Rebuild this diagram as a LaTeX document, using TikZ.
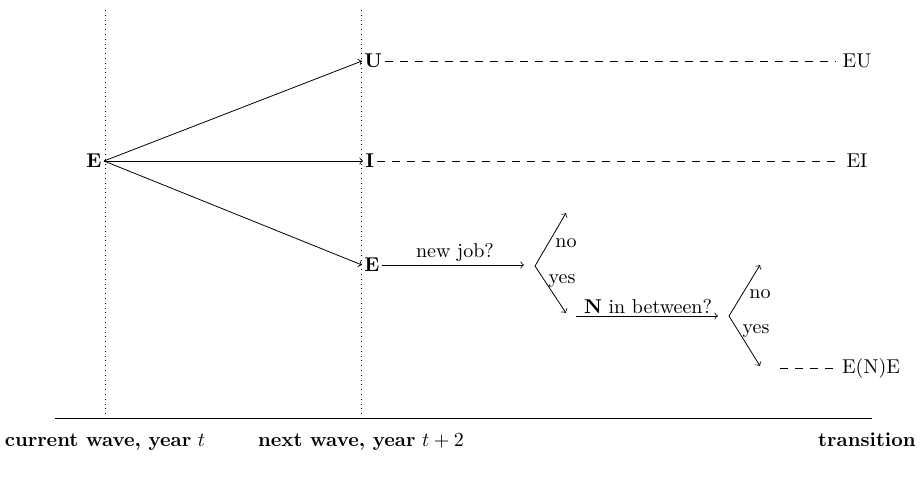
\documentclass[tikz,border=0pt]{standalone}
\usetikzlibrary{arrows}
\begin{document}
\begin{tikzpicture}[x=0.5pt,y=-0.5pt,>=to,
  every node/.style={inner sep=1pt},
  state/.style={font=\bfseries},
  dashline/.style={dash pattern=on 4pt off 3.5pt},
  lbl/.style={font=\normalsize}]
\useasboundingbox (0,0) rectangle (921,481);
% guide lines
\coordinate (t0top) at (105,10);
\coordinate (t0bot) at (105,418);
\coordinate (t1top) at (361,10);
\coordinate (t1bot) at (361,418);
\coordinate (axl) at (55,418);
\coordinate (axr) at (872,418);
\draw[dotted] (t0top) -- (t0bot);
\draw[dotted] (t1top) -- (t1bot);
\draw (axl) -- (axr);
% states
\node[state,anchor=east] (E0) at (104,161) {E};
\node[state,anchor=west] (U) at (362,61) {U};
\node[state,anchor=west] (I) at (363,161) {I};
\node[state,anchor=west] (E1) at (362,265) {E};
\draw[->] (E0.east) -- (U.west);
\draw[->] (E0.east) -- (I.west);
\draw[->] (E0.east) -- (E1.west);
% outcomes
\node[inner sep=3pt] (EU) at (857,61) {EU};
\node[inner sep=3pt] (EI) at (857,161) {EI};
\draw[dashline] (U.east) -- (EU.west);
\draw[dashline] (I.east) -- (EI.west);
% first question
\coordinate (q1e) at (524,265);
\draw[->] (E1.east) -- (q1e);
\node[anchor=base] (q1) at (455,257) {new job?};
\coordinate (b1) at (535,266);
\coordinate (b1u) at (566,213);
\coordinate (b1d) at (566,313);
\draw[->] (b1) -- (b1u);
\draw[->] (b1) -- (b1d);
\node (no1) at (566,243) {no};
\node (yes1) at (562,281) {yes};
% second question
\coordinate (q2s) at (576,316);
\coordinate (q2e) at (718,316);
\draw[->] (q2s) -- (q2e);
\node[anchor=base,inner sep=0pt] (q2) at (648,313) {\textbf{N} in between?};
\coordinate (b2) at (729,316);
\coordinate (b2u) at (760,265);
\coordinate (b2d) at (760,366);
\draw[->] (b2) -- (b2u);
\draw[->] (b2) -- (b2d);
\node (no2) at (760,294) {no};
\node (yes2) at (756,331) {yes};
\coordinate (ene0) at (780,368);
\node[inner sep=3pt] (ENE) at (871,368) {E(N)E};
\draw[dashline] (ene0) -- (ENE.west);
% axis labels
\node[anchor=base] (lt0) at (105,446) {\textbf{current wave, year} $t$};
\node[anchor=base] (lt1) at (361,446) {\textbf{next wave, year} $t+2$};
\node[anchor=base east] (ltr) at (918,446) {\textbf{transition}};
\end{tikzpicture}
\end{document}
